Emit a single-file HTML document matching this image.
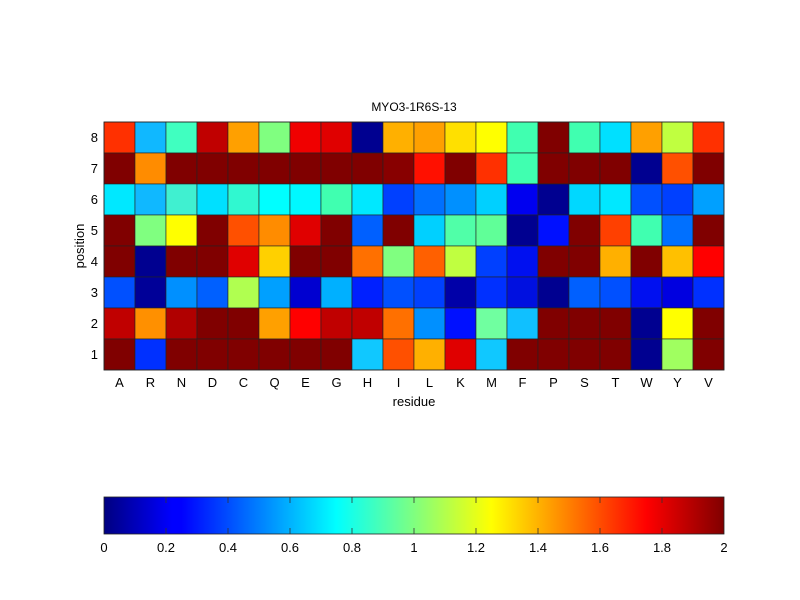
<!DOCTYPE html>
<html><head><meta charset="utf-8"><style>body{margin:0;background:#fff}svg{display:block;font-family:"Liberation Sans",Arial,sans-serif}</style></head><body>
<svg width="800" height="600" xmlns="http://www.w3.org/2000/svg">
<defs>
<linearGradient id="jet" x1="0" x2="1" y1="0" y2="0">
<stop offset="0" stop-color="#000080"/><stop offset="0.11" stop-color="#0000ff"/><stop offset="0.125" stop-color="#0000ff"/><stop offset="0.375" stop-color="#00ffff"/><stop offset="0.625" stop-color="#ffff00"/><stop offset="0.875" stop-color="#ff0000"/><stop offset="1" stop-color="#800000"/>
</linearGradient>
</defs>
<text x="414" y="111" font-size="12" text-anchor="middle">MYO3-1R6S-13</text>
<g id="cells" stroke="#222" stroke-width="0.6"></g>
<rect x="104" y="122" width="620" height="248" fill="none" stroke="#222" stroke-width="0.8"/>
<g font-size="13" text-anchor="middle" id="xl"></g>
<g font-size="13" text-anchor="end" id="yl"></g>
<text x="414" y="406" font-size="13" text-anchor="middle">residue</text>
<text transform="translate(84,246) rotate(-90)" font-size="13" text-anchor="middle">position</text>
<rect x="104" y="497" width="620" height="37" fill="url(#jet)" stroke="#222" stroke-width="0.8"/>
<g stroke="#333" stroke-width="0.8" id="cbt"></g>
<g font-size="13" text-anchor="middle">
<text x="104" y="552">0</text><text x="166" y="552">0.2</text><text x="228" y="552">0.4</text><text x="290" y="552">0.6</text><text x="352" y="552">0.8</text><text x="414" y="552">1</text><text x="476" y="552">1.2</text><text x="538" y="552">1.4</text><text x="600" y="552">1.6</text><text x="662" y="552">1.8</text><text x="724" y="552">2</text>
</g>
</svg>
<script>
var rows=[
"ff3000 10b8ff 40ffc0 c00000 ffa000 80ff80 f00000 e00000 000090 ffb000 ffa000 ffe000 ffff00 40ffb0 800000 40ffb0 00e0ff ffa000 c0ff40 ff3000",
"800000 ff8c00 800000 800000 800000 800000 800000 800000 800000 880000 ff1000 800000 ff3000 40ffb0 800000 800000 800000 000090 ff5000 800000",
"00e8ff 10b8ff 40f0d0 00e0ff 30f8d0 00ffff 00f8ff 40ffb0 00e8ff 0040ff 0070ff 0090ff 00d0ff 0000f0 000090 00d8ff 00e8ff 0050ff 0040ff 00a0ff",
"800000 80ff80 ffff00 800000 ff5000 ff8c00 e00000 800000 0060ff 800000 00d0ff 50ffa8 60ff98 000090 0010ff 800000 ff4000 40ffb0 0070ff 800000",
"800000 000090 800000 800000 e00000 ffd000 800000 800000 ff7000 80ff80 ff6000 c0ff40 0040ff 0010f0 800000 800000 ffb000 800000 ffc000 ff0000",
"0050ff 000098 0090ff 0060ff b0ff50 00a0ff 0000d0 00b0ff 0020ff 0050ff 0040ff 0000a8 0030ff 0010e0 000090 0060ff 0050ff 0010f0 0000e0 0030ff",
"c00000 ff9000 b00000 800000 800000 ffa000 ff0000 c00000 c00000 ff7000 0090ff 0010ff 70ffa0 10c0ff 800000 800000 800000 000090 ffff00 800000",
"800000 0030ff 800000 800000 800000 800000 800000 800000 10c8ff ff5000 ffb000 e00000 10c8ff 800000 800000 800000 800000 000090 a0ff60 800000"];
var ns="http://www.w3.org/2000/svg",g=document.getElementById("cells");
rows.forEach(function(r,i){r.split(" ").forEach(function(c,j){var e=document.createElementNS(ns,"rect");e.setAttribute("x",104+31*j);e.setAttribute("y",122+31*i);e.setAttribute("width",31);e.setAttribute("height",31);e.setAttribute("fill","#"+c);g.appendChild(e);});});
var L="A R N D C Q E G H I L K M F P S T W Y V".split(" "),xl=document.getElementById("xl");
L.forEach(function(t,j){var e=document.createElementNS(ns,"text");e.setAttribute("x",119.5+31*j);e.setAttribute("y",387);e.textContent=t;xl.appendChild(e);});
var yl=document.getElementById("yl");
for(var i=0;i<8;i++){var e=document.createElementNS(ns,"text");e.setAttribute("x",98);e.setAttribute("y",142+31*i);e.textContent=8-i;yl.appendChild(e);}
var cb=document.getElementById("cbt");
for(var k=1;k<10;k++){var x=104+62*k;[[497,503],[528,534]].forEach(function(p){var l=document.createElementNS(ns,"line");l.setAttribute("x1",x);l.setAttribute("x2",x);l.setAttribute("y1",p[0]);l.setAttribute("y2",p[1]);cb.appendChild(l);});}
</script>
</body></html>
